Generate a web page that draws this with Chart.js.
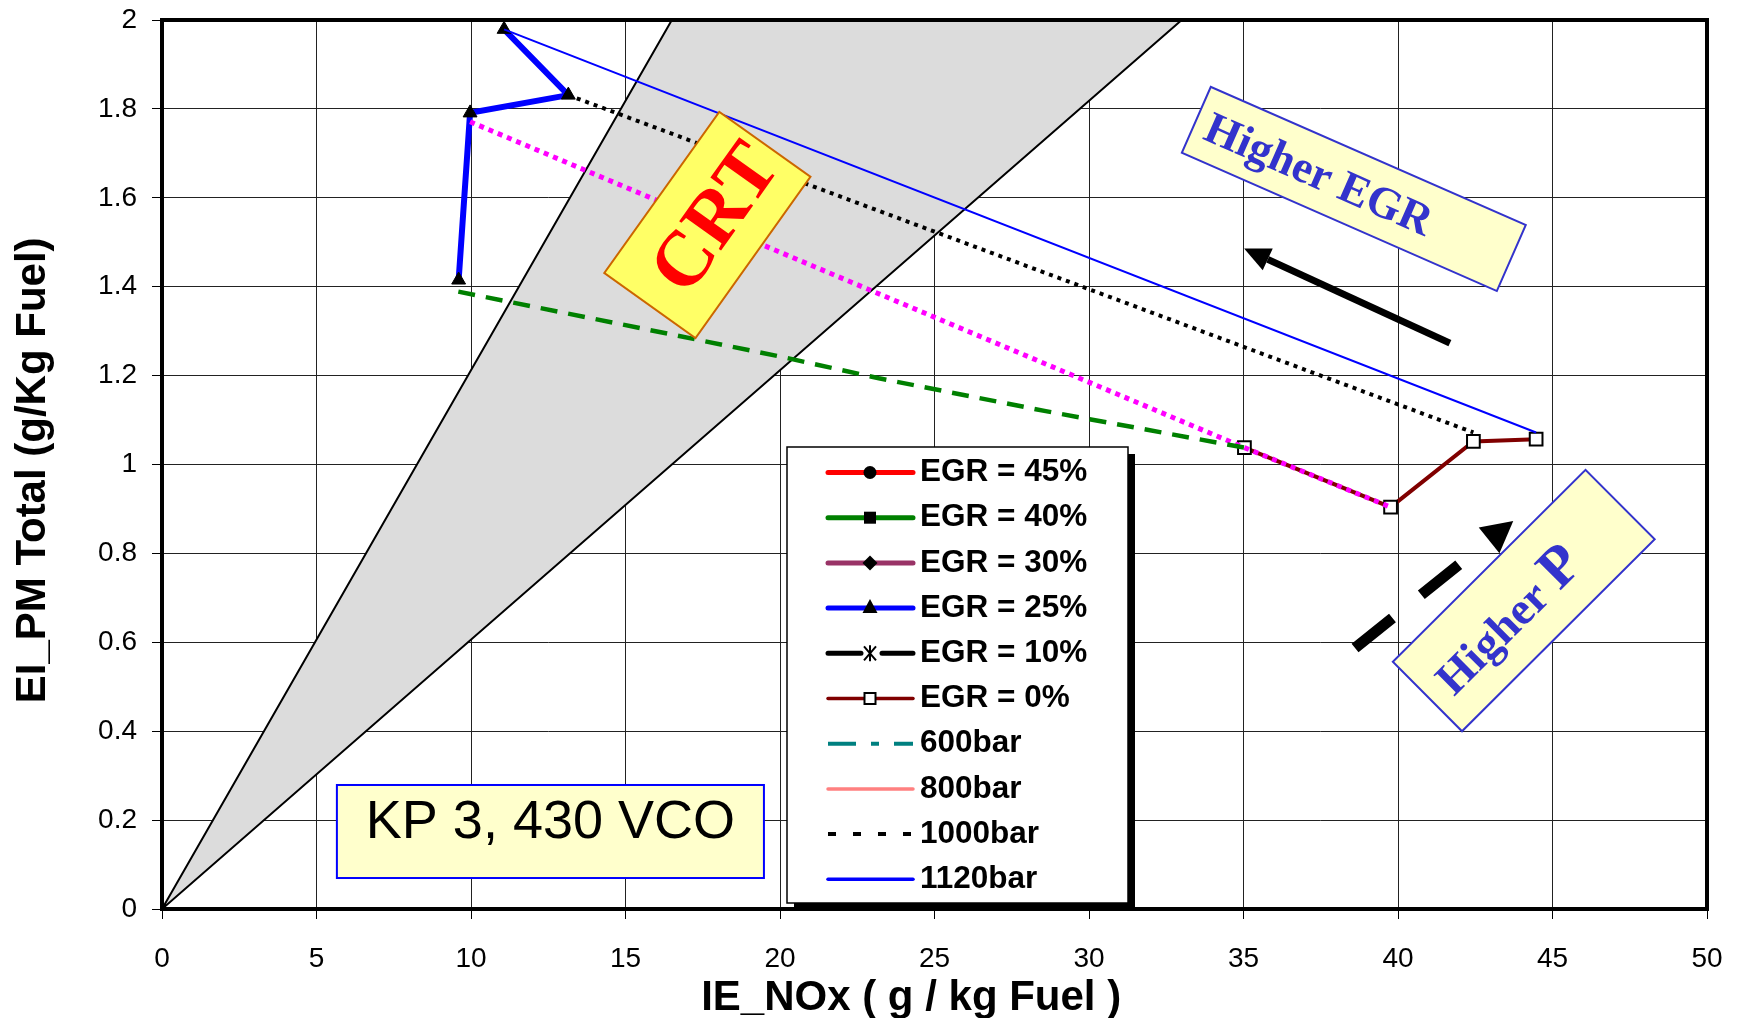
<!DOCTYPE html>
<html lang="en">
<head>
<meta charset="UTF-8">
<title>EI_PM Total vs IE_NOx</title>
<style>
    body { margin: 0; background: #fff; }
    #wrap { width: 1741px; height: 1018px; }
</style>
<script src="https://cdn.jsdelivr.net/npm/chart.js"></script>
</head>
<body>
<div id="wrap"><canvas id="pmChart" width="1741" height="1018"></canvas></div>
<script>
// values
const xTicks = [0, 5, 10, 15, 20, 25, 30, 35, 40, 45, 50];
const yTicks = [0, 0.2, 0.4, 0.6, 0.8, 1, 1.2, 1.4, 1.6, 1.8, 2];

const egr25X = [9.6, 9.97, 13.15, 11.07];
const egr25Y = [1.415, 1.791, 1.831, 1.979];
const egr0X = [35.03, 39.76, 42.44, 44.47];
const egr0Y = [1.038, 0.904, 1.052, 1.057];

const bar600X = [9.59, 14.9, 20.0, 23.2, 28.6, 35.03];
const bar600Y = [1.389, 1.315, 1.243, 1.194, 1.12, 1.038];
const bar800X = [9.97, 35.03, 39.76];
const bar800Y = [1.771, 1.038, 0.904];
const bar1000X = [13.15, 42.44];
const bar1000Y = [1.831, 1.072];
const bar1120X = [11.07, 44.47];
const bar1120Y = [1.979, 1.072];

// CRT wedge (grey area)
const crtX = [0, 16.5, 33, 0];
const crtY = [0, 2, 2, 0];

const FONT = '"Liberation Sans", Arial, sans-serif';
const SERIF = '"Liberation Serif", "Times New Roman", serif';

function pts(xs, ys) {
    return xs.map((x, i) => ({ x: x, y: ys[i] }));
}

// how each entry looks in the legend box
const looks = {
    egr45: { color: '#ff0000', width: 5, marker: 'circle' },
    egr40: { color: '#008000', width: 5, marker: 'square' },
    egr30: { color: '#993366', width: 5, marker: 'diamond' },
    egr25: { color: '#0000ff', width: 5, marker: 'triangle' },
    egr10: { color: '#000000', width: 5, marker: 'star', gap: true },
    egr0: { color: '#800000', width: 3.5, marker: 'open' },
    b600: { color: '#008080', width: 4, dash: [28, 15, 8, 15] },
    b800: { color: '#ff8080', width: 3.5 },
    b1000: { color: '#000000', width: 4, dash: [8, 17] },
    b1120: { color: '#0000ff', width: 3.5 }
};

const datasets = [
    { label: 'EGR = 45%', look: looks.egr45, data: [] },
    { label: 'EGR = 40%', look: looks.egr40, data: [] },
    { label: 'EGR = 30%', look: looks.egr30, data: [] },
    {
        label: 'EGR = 25%', look: looks.egr25, data: pts(egr25X, egr25Y), order: 2,
        borderColor: '#0000ff', borderWidth: 6, pointStyle: 'triangle', pointRadius: 8,
        pointBackgroundColor: '#000', pointBorderColor: '#000', pointBorderWidth: 1
    },
    { label: 'EGR = 10%', look: looks.egr10, data: [] },
    {
        label: 'EGR = 0%', look: looks.egr0, data: pts(egr0X, egr0Y), order: 2,
        borderColor: '#800000', borderWidth: 4, pointStyle: 'rect', pointRadius: 9,
        pointBackgroundColor: '#fff', pointBorderColor: '#000', pointBorderWidth: 2
    },
    {
        label: '600bar', look: looks.b600, data: pts(bar600X, bar600Y), order: 1,
        borderColor: '#008000', borderWidth: 4.5, borderDash: [17, 11], pointRadius: 0
    },
    {
        label: '800bar', look: looks.b800, data: pts(bar800X, bar800Y), order: 1,
        borderColor: '#ff00ff', borderWidth: 5, borderDash: [5, 5], pointRadius: 0
    },
    {
        label: '1000bar', look: looks.b1000, data: pts(bar1000X, bar1000Y), order: 1,
        borderColor: '#000', borderWidth: 4, borderDash: [4, 5], pointRadius: 0
    },
    {
        label: '1120bar', look: looks.b1120, data: pts(bar1120X, bar1120Y), order: 1,
        borderColor: '#0000ff', borderWidth: 2, pointRadius: 0
    },
    {
        label: 'CRT', data: pts(crtX, crtY), order: 3,
        borderColor: '#000', borderWidth: 2, backgroundColor: '#dcdcdc',
        fill: 'shape', pointRadius: 0
    }
];
datasets.forEach(d => { d.showLine = true; d.tension = 0; });

// legend marker glyphs
function drawMarker(ctx, type, x, y) {
    ctx.save();
    ctx.fillStyle = '#000';
    ctx.strokeStyle = '#000';
    ctx.beginPath();
    if (type === 'circle') {
        ctx.arc(x, y, 6.5, 0, Math.PI * 2);
        ctx.fill();
    } else if (type === 'square') {
        ctx.fillRect(x - 6, y - 6, 12, 12);
    } else if (type === 'diamond') {
        ctx.moveTo(x, y - 7.5); ctx.lineTo(x + 7.5, y); ctx.lineTo(x, y + 7.5); ctx.lineTo(x - 7.5, y);
        ctx.closePath(); ctx.fill();
    } else if (type === 'triangle') {
        ctx.moveTo(x, y - 9); ctx.lineTo(x + 7.5, y + 5); ctx.lineTo(x - 7.5, y + 5);
        ctx.closePath(); ctx.fill();
    } else if (type === 'star') {
        ctx.lineWidth = 2;
        ctx.moveTo(x - 6, y - 7); ctx.lineTo(x + 6, y + 7);
        ctx.moveTo(x + 6, y - 7); ctx.lineTo(x - 6, y + 7);
        ctx.moveTo(x, y - 8); ctx.lineTo(x, y + 8);
        ctx.stroke();
    } else if (type === 'open') {
        ctx.fillStyle = '#fff';
        ctx.fillRect(x - 5.5, y - 5.5, 11, 11);
        ctx.lineWidth = 2;
        ctx.strokeRect(x - 5.5, y - 5.5, 11, 11);
    }
    ctx.restore();
}

function arrow(ctx, x0, y0, x1, y1, lw, headLen, headHalf, dash) {
    const a = Math.atan2(y1 - y0, x1 - x0);
    const bx = x1 - headLen * Math.cos(a), by = y1 - headLen * Math.sin(a);
    ctx.save();
    ctx.strokeStyle = '#000';
    ctx.fillStyle = '#000';
    ctx.lineWidth = lw;
    ctx.lineCap = 'butt';
    ctx.setLineDash(dash || []);
    ctx.beginPath(); ctx.moveTo(x0, y0); ctx.lineTo(bx, by); ctx.stroke();
    ctx.setLineDash([]);
    ctx.beginPath();
    ctx.moveTo(x1, y1);
    ctx.lineTo(bx + headHalf * Math.sin(a), by - headHalf * Math.cos(a));
    ctx.lineTo(bx - headHalf * Math.sin(a), by + headHalf * Math.cos(a));
    ctx.closePath();
    ctx.fill();
    ctx.restore();
}

function tiltedBox(ctx, cx, cy, w, h, deg, fill, stroke) {
    ctx.translate(cx, cy);
    ctx.rotate(deg * Math.PI / 180);
    ctx.fillStyle = fill;
    ctx.fillRect(-w / 2, -h / 2, w, h);
    ctx.lineWidth = 2;
    ctx.strokeStyle = stroke;
    ctx.strokeRect(-w / 2, -h / 2, w, h);
}

const overlay = {
    id: 'overlay',
    afterDraw(chart) {
        const ctx = chart.ctx;
        const a = chart.chartArea;
        const xs = chart.scales.x, ys = chart.scales.y;
        const px = v => xs.getPixelForValue(v);
        const py = v => ys.getPixelForValue(v);

        // heavy frame around the plot
        ctx.save();
        ctx.lineWidth = 4;
        ctx.strokeStyle = '#000';
        ctx.strokeRect(a.left, a.top, a.right - a.left, a.bottom - a.top);
        ctx.restore();

        // CRT label
        ctx.save();
        tiltedBox(ctx, px(17.65), py(1.539), 198, 112, -54.5, '#ffff66', '#cc6600');
        ctx.fillStyle = '#ff0000';
        ctx.font = 'bold 78px ' + SERIF;
        ctx.textAlign = 'center';
        ctx.fillText('CRT', 10, 26);
        ctx.restore();

        // Higher EGR label
        ctx.save();
        tiltedBox(ctx, px(38.57), py(1.62), 344, 72, 23.7, '#ffffcc', '#3333cc');
        ctx.fillStyle = '#3333cc';
        ctx.font = 'bold 45px ' + SERIF;
        ctx.textAlign = 'center';
        ctx.fillText('Higher EGR', -38, 15);
        ctx.restore();

        // Higher P label
        ctx.save();
        tiltedBox(ctx, px(44.07), py(0.694), 272, 98, -44.9, '#ffffcc', '#3333cc');
        ctx.fillStyle = '#3333cc';
        ctx.font = 'bold 46px ' + SERIF;
        const w1 = ctx.measureText('Higher ').width;
        ctx.font = 'bold 58px ' + SERIF;
        const w2 = ctx.measureText('P').width;
        let sx = -25 - (w1 + w2) / 2;
        ctx.font = 'bold 46px ' + SERIF;
        ctx.fillText('Higher ', sx, 19);
        ctx.font = 'bold 58px ' + SERIF;
        ctx.fillText('P', sx + w1, 19);
        ctx.restore();

        // arrows
        arrow(ctx, px(41.68), py(1.273), px(35.02), py(1.486), 7, 26, 12);
        arrow(ctx, px(38.61), py(0.587), px(43.73), py(0.873), 11, 31, 16.5, [48, 37, 48, 60]);

        // KP 3 box
        const kl = px(5.66), kr = px(19.48), kt = py(0.279), kb = py(0.0697);
        ctx.save();
        ctx.fillStyle = '#ffffcc';
        ctx.fillRect(kl, kt, kr - kl, kb - kt);
        ctx.lineWidth = 2;
        ctx.strokeStyle = '#0000ff';
        ctx.strokeRect(kl, kt, kr - kl, kb - kt);
        ctx.fillStyle = '#000';
        ctx.font = '54px ' + FONT;
        ctx.textAlign = 'center';
        ctx.fillText('KP 3, 430 VCO', (kl + kr) / 2, kt + 53);
        ctx.restore();

        // legend box with drop shadow
        const L = { left: 787, top: 447, w: 341, h: 456, shadow: 7,
            row0: 472.5, step: 45.2, x0: 828, x1: 913, mx: 870, tx: 920 };
        ctx.save();
        ctx.fillStyle = '#000';
        ctx.fillRect(L.left + L.shadow, L.top + L.shadow, L.w, L.h);
        ctx.fillStyle = '#fff';
        ctx.fillRect(L.left, L.top, L.w, L.h);
        ctx.lineWidth = 1.5;
        ctx.strokeStyle = '#000';
        ctx.strokeRect(L.left, L.top, L.w, L.h);
        let row = 0;
        chart.data.datasets.forEach(d => {
            if (!d.look) return;
            const lk = d.look;
            const y = L.row0 + row * L.step;
            ctx.save();
            ctx.strokeStyle = lk.color;
            ctx.lineWidth = lk.width;
            ctx.lineCap = lk.dash ? 'butt' : 'round';
            ctx.setLineDash(lk.dash || []);
            ctx.beginPath();
            if (lk.gap) {
                ctx.moveTo(L.x0, y); ctx.lineTo(L.mx - 9, y);
                ctx.moveTo(L.mx + 12, y); ctx.lineTo(L.x1, y);
            } else {
                ctx.moveTo(L.x0, y); ctx.lineTo(L.x1, y);
            }
            ctx.stroke();
            ctx.restore();
            if (lk.marker) drawMarker(ctx, lk.marker, L.mx, y);
            ctx.fillStyle = '#000';
            ctx.font = 'bold 31.5px ' + FONT;
            ctx.textBaseline = 'middle';
            ctx.fillText(d.label, L.tx, y);
            row++;
        });
        ctx.restore();
    }
};

new Chart(document.getElementById('pmChart'), {
    type: 'scatter',
    data: { datasets: datasets },
    options: {
        responsive: false,
        animation: false,
        devicePixelRatio: 1,
        layout: { padding: { top: 20, right: 34, left: 0, bottom: 0 } },
        plugins: {
            legend: { display: false },
            tooltip: { enabled: false }
        },
        scales: {
            x: {
                type: 'linear',
                min: 0,
                max: 50,
                afterBuildTicks: s => { s.ticks = xTicks.map(v => ({ value: v })); },
                afterFit: s => { s.height = 109; s.paddingLeft = 0; s.paddingRight = 0; },
                border: { display: false },
                grid: { color: '#222', lineWidth: 1, tickLength: 10, tickColor: '#000' },
                ticks: { color: '#000', padding: 23, font: { family: FONT, size: 28 }, callback: v => String(v) },
                title: {
                    display: true,
                    text: 'IE_NOx ( g / kg Fuel )    ',
                    color: '#000',
                    padding: { top: 0, bottom: -1 },
                    font: { family: FONT, size: 42, weight: 'bold', lineHeight: 1.0 }
                }
            },
            y: {
                type: 'linear',
                min: 0,
                max: 2,
                afterBuildTicks: s => { s.ticks = yTicks.map(v => ({ value: v })); },
                afterFit: s => { s.width = 162; s.paddingTop = 0; s.paddingBottom = 0; },
                border: { display: false },
                grid: { color: '#222', lineWidth: 1, tickLength: 10, tickColor: '#000' },
                ticks: { color: '#000', padding: 15, font: { family: FONT, size: 28 }, callback: v => String(v) },
                title: {
                    display: true,
                    text: 'EI_PM Total (g/Kg Fuel) ',
                    color: '#000',
                    padding: { top: 8, bottom: 0 },
                    font: { family: FONT, size: 42, weight: 'bold' }
                }
            }
        }
    },
    plugins: [overlay]
});
</script>
</body>
</html>
